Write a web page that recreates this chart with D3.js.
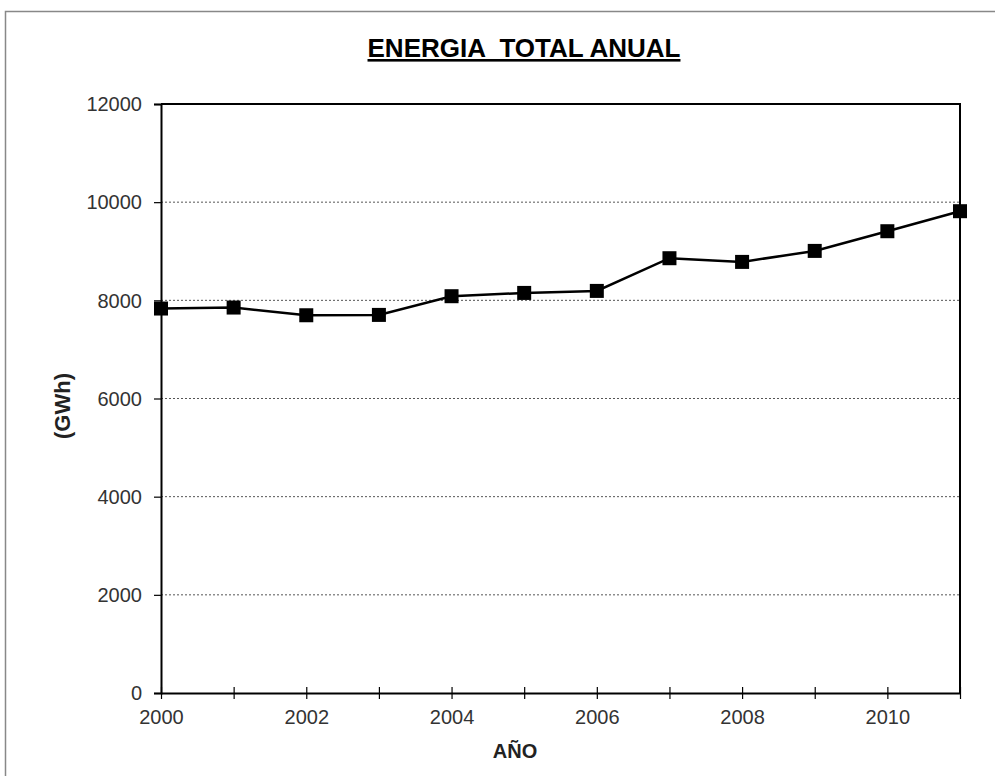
<!DOCTYPE html>
<html>
<head>
<meta charset="utf-8">
<script src="https://cdn.jsdelivr.net/npm/d3@7"></script>
<style>
  html, body { margin: 0; padding: 0; background: #fff; }
  svg { display: block; font-family: "Liberation Sans", Arial, sans-serif; }
</style>
</head>
<body>
<svg id="chart" width="995" height="776"></svg>
<script>
// Annual total energy (GWh)
const years = [2000, 2001, 2002, 2003, 2004, 2005, 2006, 2007, 2008, 2009, 2010, 2011];
const energy = [7833, 7853, 7696, 7703, 8084, 8151, 8192, 8858, 8783, 9007, 9408, 9816];
const yTicks = [0, 2000, 4000, 6000, 8000, 10000, 12000];
const xLabelYears = [2000, 2002, 2004, 2006, 2008, 2010];

const svg = d3.select("#chart");
const plotLeft = 161, plotRight = 960, plotTop = 104, plotBottom = 693;
const FONT = "Liberation Sans, Arial, sans-serif";

const x = d3.scaleLinear().domain([2000, 2011]).range([plotLeft, plotRight]);
const y = d3.scaleLinear().domain([0, 12000]).range([plotBottom, plotTop]);

// outer frame
svg.append("rect")
  .attr("x", 5.5).attr("y", 11.5).attr("width", 1000).attr("height", 800)
  .attr("fill", "none").attr("stroke", "#888").attr("stroke-width", 1.5);

// dashed horizontal gridlines
svg.append("g")
  .selectAll("line")
  .data(yTicks.filter(d => d > 0 && d < 12000))
  .join("line")
  .attr("x1", plotLeft).attr("x2", plotRight)
  .attr("y1", d => y(d)).attr("y2", d => y(d))
  .attr("stroke", "#555").attr("stroke-width", 1)
  .attr("stroke-dasharray", "2,2");

// plot frame (top and right)
svg.append("path")
  .attr("d", `M${plotLeft},${plotTop}H${plotRight}V${plotBottom}`)
  .attr("fill", "none").attr("stroke", "#000").attr("stroke-width", 2);

// y axis
const yAxis = svg.append("g")
  .attr("transform", `translate(${plotLeft},0)`)
  .call(d3.axisLeft(y).tickValues(yTicks).tickSize(7).tickPadding(12).tickFormat(d3.format("d")));
yAxis.select(".domain").attr("stroke", "#000").attr("stroke-width", 2);
yAxis.selectAll(".tick line").attr("stroke", "#000").attr("stroke-width", 1.2);
yAxis.selectAll(".tick text").attr("font-size", 20).attr("fill", "#333")
  .attr("font-family", FONT).attr("dy", "0.34em");

// x axis: ticks every year crossing the axis, labels every two years
const xAxis = svg.append("g")
  .attr("transform", `translate(0,${plotBottom})`)
  .call(d3.axisBottom(x).tickValues(years).tickSizeInner(6).tickSizeOuter(0).tickPadding(11)
    .tickFormat(d => xLabelYears.includes(d) ? String(d) : ""));
xAxis.select(".domain").attr("stroke", "#000").attr("stroke-width", 2);
xAxis.selectAll(".tick line").attr("y1", -6).attr("stroke", "#000").attr("stroke-width", 1.2);
xAxis.selectAll(".tick text").attr("font-size", 20).attr("fill", "#333")
  .attr("font-family", FONT);

// series line
const pts = years.map((yr, i) => [yr, energy[i]]);
svg.append("path")
  .datum(pts)
  .attr("fill", "none").attr("stroke", "#000").attr("stroke-width", 2.5)
  .attr("d", d3.line().x(d => x(d[0])).y(d => y(d[1])));

// square markers
const m = 14;
svg.append("g")
  .selectAll("rect")
  .data(pts)
  .join("rect")
  .attr("x", d => x(d[0]) - m / 2).attr("y", d => y(d[1]) - m / 2)
  .attr("width", m).attr("height", m).attr("fill", "#000");

// title
svg.append("text")
  .attr("x", 524).attr("y", 57)
  .attr("text-anchor", "middle")
  .attr("font-size", 26).attr("font-weight", "bold")
  .attr("text-decoration", "underline")
  .attr("fill", "#000")
  .style("white-space", "pre")
  .text("ENERGIA  TOTAL ANUAL");

// axis titles
svg.append("text")
  .attr("x", 515).attr("y", 758)
  .attr("text-anchor", "middle")
  .attr("font-size", 20).attr("font-weight", "bold").attr("fill", "#222")
  .text("AÑO");

svg.append("text")
  .attr("transform", "translate(70,406) rotate(-90)")
  .attr("text-anchor", "middle")
  .attr("font-size", 22).attr("font-weight", "bold").attr("fill", "#222")
  .text("(GWh)");
</script>
</body>
</html>
